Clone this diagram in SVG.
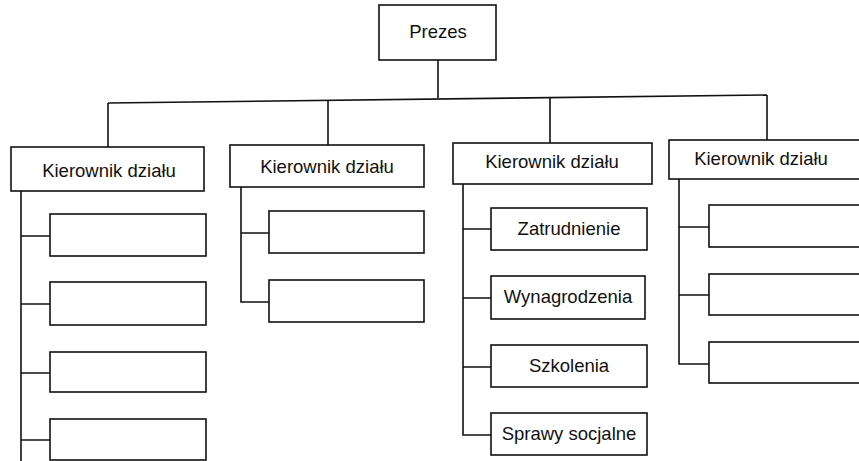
<svg xmlns="http://www.w3.org/2000/svg" width="859" height="461" viewBox="0 0 859 461">
<style>
.box{fill:#fff;stroke:#111;stroke-width:1.6}
.ln{fill:none;stroke:#111;stroke-width:1.6}
text{font-family:"Liberation Sans",Arial,sans-serif;font-size:18.5px;fill:#111;text-anchor:middle}
</style>
<rect width="859" height="461" fill="#fff"/>
<g id="connectors">
<path class="ln" d="M438,60 V98"/>
<path class="ln" d="M108,103 L767,95"/>
<path class="ln" d="M108,103 V147 M328,100 V145 M550,97 V143 M767,95 V140"/>
<path class="ln" d="M21,191 V461 M21,236 H50 M21,304 H50 M21,373 H50 M21,440 H50"/>
<path class="ln" d="M241,187 V302 H269 M241,233 H269"/>
<path class="ln" d="M463,184 V435 H491 M463,229 H491 M463,298 H491 M463,367 H491"/>
<path class="ln" d="M679,179 V364 H709 M679,227 H709 M679,295 H709"/>
</g>
<g id="prezes"><rect class="box" x="379" y="5" width="117" height="55"/><text x="438" y="38">Prezes</text></g>
<g id="kier1"><rect class="box" x="11" y="147" width="193" height="44"/><text x="109" y="177">Kierownik działu</text></g>
<g id="kier2"><rect class="box" x="230" y="145" width="194" height="42"/><text x="327" y="173">Kierownik działu</text></g>
<g id="kier3"><rect class="box" x="453" y="143" width="199" height="41"/><text x="552" y="168">Kierownik działu</text></g>
<g id="kier4"><rect class="box" x="669" y="140" width="200" height="39"/><text x="761" y="165">Kierownik działu</text></g>
<g id="c1a"><rect class="box" x="50" y="214" width="156" height="42"/></g>
<g id="c1b"><rect class="box" x="50" y="282" width="156" height="43"/></g>
<g id="c1c"><rect class="box" x="50" y="352" width="156" height="40"/></g>
<g id="c1d"><rect class="box" x="50" y="419" width="156" height="41"/></g>
<g id="c2a"><rect class="box" x="269" y="211" width="155" height="42"/></g>
<g id="c2b"><rect class="box" x="269" y="280" width="155" height="42"/></g>
<g id="c3a"><rect class="box" x="491" y="208" width="156" height="42"/><text x="569" y="235">Zatrudnienie</text></g>
<g id="c3b"><rect class="box" x="491" y="276" width="154" height="43"/><text x="568" y="303">Wynagrodzenia</text></g>
<g id="c3c"><rect class="box" x="491" y="345" width="156" height="42"/><text x="569" y="372">Szkolenia</text></g>
<g id="c3d"><rect class="box" x="491" y="413" width="156" height="42"/><text x="569" y="440">Sprawy socjalne</text></g>
<g id="c4a"><rect class="box" x="709" y="205" width="160" height="42"/></g>
<g id="c4b"><rect class="box" x="709" y="274" width="160" height="41"/></g>
<g id="c4c"><rect class="box" x="709" y="342" width="160" height="41"/></g>
</svg>
